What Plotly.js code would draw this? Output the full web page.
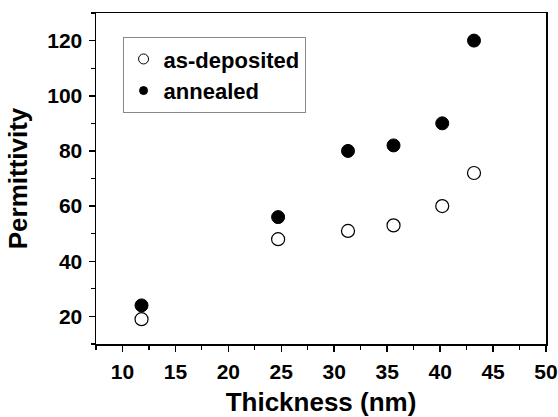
<!DOCTYPE html>
<html>
<head>
<meta charset="utf-8">
<script src="https://cdn.plot.ly/plotly-3.0.1.min.js"></script>
<style>html,body{margin:0;padding:0;background:#fff;}#chart{width:558px;height:417px;}</style>
</head>
<body>
<div id="chart"></div>
<script>
var thickness = [11.8, 24.7, 31.3, 35.6, 40.2, 43.2];
var asDeposited = [19, 48, 51, 53, 60, 72];
var annealed = [24, 56, 80, 82, 90, 120];
var xTicks = [10, 15, 20, 25, 30, 35, 40, 45, 50];
var yTicks = [20, 40, 60, 80, 100, 120];

var F = 'Liberation Sans, Arial, Helvetica, sans-serif';
var traces = [
  {x: thickness, y: asDeposited, mode: 'markers', type: 'scatter', showlegend: false,
   marker: {symbol: 'circle', size: 13, color: '#fff', line: {color: '#000', width: 1.2}}},
  {x: thickness, y: annealed, mode: 'markers', type: 'scatter', showlegend: false,
   marker: {symbol: 'circle', size: 13, color: '#000', line: {color: '#000', width: 1}}},
  {x: [null], y: [null], mode: 'markers', type: 'scatter', name: 'as-deposited',
   marker: {symbol: 'circle', size: 10, color: '#fff', line: {color: '#000', width: 1}}},
  {x: [null], y: [null], mode: 'markers', type: 'scatter', name: 'annealed',
   marker: {symbol: 'circle', size: 8, color: '#000', line: {color: '#000', width: 1}}}
];
var layout = {
  width: 558, height: 417,
  margin: {l: 96, r: 12, t: 13, b: 73},
  paper_bgcolor: '#fff', plot_bgcolor: '#fff',
  showlegend: true,
  legend: {x: 0.059, y: 0.927, xanchor: 'left', yanchor: 'top',
    bgcolor: '#fff', bordercolor: '#888', borderwidth: 1,
    font: {family: F, size: 22, weight: 'bold', color: '#000'}, tracegroupgap: 0},
  xaxis: {range: [7.5, 50], tickvals: xTicks, ticktext: xTicks.map(String),
    showgrid: false, zeroline: false, showline: true, linecolor: '#000', linewidth: 1.5, mirror: true,
    ticks: 'outside', ticklen: 6, tickwidth: 1.5, tickcolor: '#000', ticklabelstandoff: 2,
    minor: {dtick: 2.5, tick0: 0, ticks: 'outside', ticklen: 4, tickwidth: 1.2, tickcolor: '#000', showgrid: false},
    tickfont: {family: F, size: 21, weight: 'bold', color: '#000'},
    title: {text: 'Thickness (nm)', font: {family: F, size: 26, weight: 'bold', color: '#000'}, standoff: 15}},
  yaxis: {range: [10, 130], tickvals: yTicks, ticktext: yTicks.map(String),
    showgrid: false, zeroline: false, showline: true, linecolor: '#000', linewidth: 1.5, mirror: true,
    ticks: 'outside', ticklen: 6, tickwidth: 1.5, tickcolor: '#000', ticklabelstandoff: 2,
    minor: {dtick: 10, tick0: 0, ticks: 'outside', ticklen: 4, tickwidth: 1.2, tickcolor: '#000', showgrid: false},
    tickfont: {family: F, size: 21, weight: 'bold', color: '#000'},
    title: {text: 'Permittivity', font: {family: F, size: 26, weight: 'bold', color: '#000'}, standoff: 12}}
};
Plotly.newPlot('chart', traces, layout, {displayModeBar: false, staticPlot: true});
</script>
</body>
</html>
